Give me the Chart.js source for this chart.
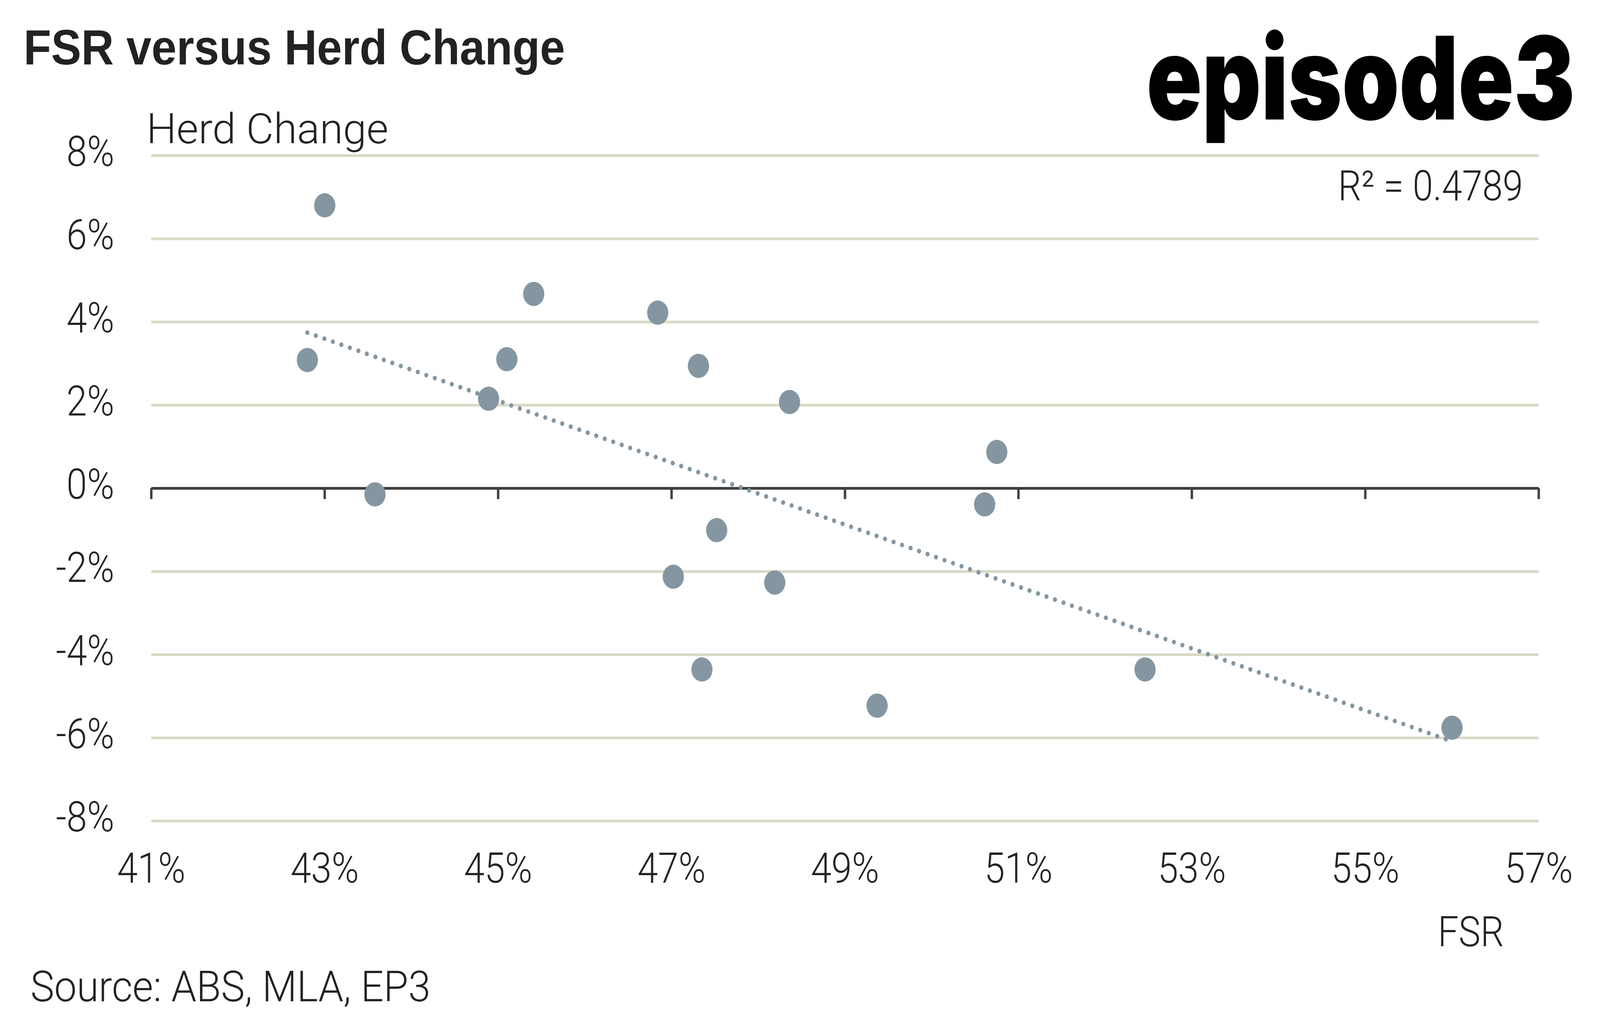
<!DOCTYPE html>
<html>
<head>
<meta charset="utf-8">
<script src="https://cdn.jsdelivr.net/npm/chart.js@4"></script>
<style>
  html, body { margin: 0; padding: 0; background: #ffffff; overflow: hidden; }
  #wrap { position: absolute; left: 0; top: 0; width: 4675px; height: 2594px; overflow: hidden; background: #fff; transform-origin: 0 0; }
  #c { position: absolute; left: 0; top: 0; }
  #overlay { position: absolute; left: 0; top: 0; pointer-events: none; }
</style>
</head>
<body>
<div id="wrap">
  <canvas id="c" width="4675" height="2594" style="width:4675px;height:2594px"></canvas>
  <svg id="overlay" width="4675" height="2594" xmlns="http://www.w3.org/2000/svg">
    <text x="69" y="165" font-family="Liberation Sans, Arial, sans-serif" font-weight="700" font-size="126" fill="#222222" textLength="1582" lengthAdjust="spacingAndGlyphs">FSR versus Herd Change</text>
    <text x="3350" y="306" font-family="Inter, sans-serif" font-weight="900" font-size="295" fill="#000000" textLength="1252" lengthAdjust="spacingAndGlyphs">episode3</text>
    <text x="428" y="367" font-family="Roboto, sans-serif" font-weight="300" font-size="108" fill="#222222" textLength="707" lengthAdjust="spacingAndGlyphs">Herd Change</text>
    <text x="4450" y="513" text-anchor="end" font-family="Roboto, sans-serif" font-weight="300" font-size="107" fill="#222222">R² = 0.4789</text>
    <text x="4201" y="2423" font-family="Roboto, sans-serif" font-weight="300" font-size="108" fill="#222222">FSR</text>
    <text x="89" y="2564" font-family="Roboto, sans-serif" font-weight="300" font-size="110" fill="#222222" textLength="1169" lengthAdjust="spacingAndGlyphs">Source: ABS, MLA, EP3</text>
  </svg>
</div>
<script>
// ---- Data ----
const fsr  = [43.00, 42.80, 43.58, 44.89, 45.10, 45.41, 46.84, 47.31, 48.36, 47.02, 47.52, 47.35, 48.19, 49.37, 50.75, 50.61, 52.46, 56.00];
const herd = [ 6.80,  3.08, -0.15,  2.15,  3.10,  4.67,  4.22,  2.94,  2.07, -2.13, -1.01, -4.36, -2.27, -5.23,  0.87, -0.39, -4.36, -5.76];
// Linear trendline end points as drawn in the reference
const trendFsr  = [42.80, 56.00];
const trendHerd = [ 3.74, -6.09];
// Axis ticks
const xTicks = [41, 43, 45, 47, 49, 51, 53, 55, 57];
const yTicks = [-8, -6, -4, -2, 0, 2, 4, 6, 8];

// Fit the 4675x2594 design into whatever viewport the browser really has
(function fit() {
  const w = window.innerWidth || 4675, h = window.innerHeight || 2594;
  const sx = w / 4675, sy = h / 2594;
  document.getElementById('wrap').style.transform = 'scale(' + sx + ',' + sy + ')';
})();

const pointData = fsr.map((x, i) => ({ x: x, y: herd[i] }));
const trendData = trendFsr.map((x, i) => ({ x: x, y: trendHerd[i] }));

const DOT = '#8496A1';
const GRID = '#D9DBC7';
const AXIS = '#404040';
const TEXT = '#222222';
const tickFont = { family: 'Roboto', weight: '300', size: 108 };

const xTickMarks = {
  id: 'xTickMarks',
  beforeDatasetsDraw(chart) {
    const ctx = chart.ctx;
    const xs = chart.scales.x, ys = chart.scales.y;
    const y0 = ys.getPixelForValue(0);
    ctx.save();
    ctx.strokeStyle = AXIS;
    ctx.lineWidth = 7;
    xTicks.forEach(v => {
      const px = xs.getPixelForValue(v);
      ctx.beginPath();
      ctx.moveTo(px, y0);
      ctx.lineTo(px, y0 + 28);
      ctx.stroke();
    });
    ctx.restore();
  }
};

new Chart(document.getElementById('c'), {
  type: 'scatter',
  data: {
    datasets: [
      {
        label: 'Trend',
        type: 'line',
        data: trendData,
        showLine: true,
        borderColor: DOT,
        borderWidth: 12,
        borderDash: [0.01, 26],
        borderCapStyle: 'round',
        pointRadius: 0,
        fill: false,
        order: 0
      },
      {
        label: 'FSR vs Herd Change',
        data: pointData,
        backgroundColor: DOT,
        borderWidth: 0,
        pointRadius: 31,
        pointHoverRadius: 31,
        order: 1
      }
    ]
  },
  options: {
    responsive: false,
    animation: false,
    devicePixelRatio: 1,
    layout: { padding: { left: 0, right: 179, top: 398, bottom: 242 } },
    plugins: { legend: { display: false }, tooltip: { enabled: false }, title: { display: false } },
    scales: {
      x: {
        type: 'linear',
        min: 41, max: 57,
        afterBuildTicks(s) { s.ticks = xTicks.map(v => ({ value: v })); },
        afterFit(s) { s.height = 250; },
        grid: { display: false, drawTicks: false },
        border: { display: false },
        ticks: {
          padding: 66,
          color: TEXT,
          font: tickFont,
          maxRotation: 0,
          autoSkip: false,
          callback: v => v + '%'
        }
      },
      y: {
        type: 'linear',
        min: -8, max: 8,
        afterBuildTicks(s) { s.ticks = yTicks.map(v => ({ value: v })); },
        afterFit(s) { s.width = 442; },
        grid: {
          drawTicks: false,
          lineWidth: 7,
          color: c => (c.tick && c.tick.value === 0) ? AXIS : GRID
        },
        border: { display: false },
        ticks: {
          padding: 108,
          color: TEXT,
          font: tickFont,
          autoSkip: false,
          callback: v => v + '%'
        }
      }
    }
  },
  plugins: [xTickMarks]
});
</script>
</body>
</html>
